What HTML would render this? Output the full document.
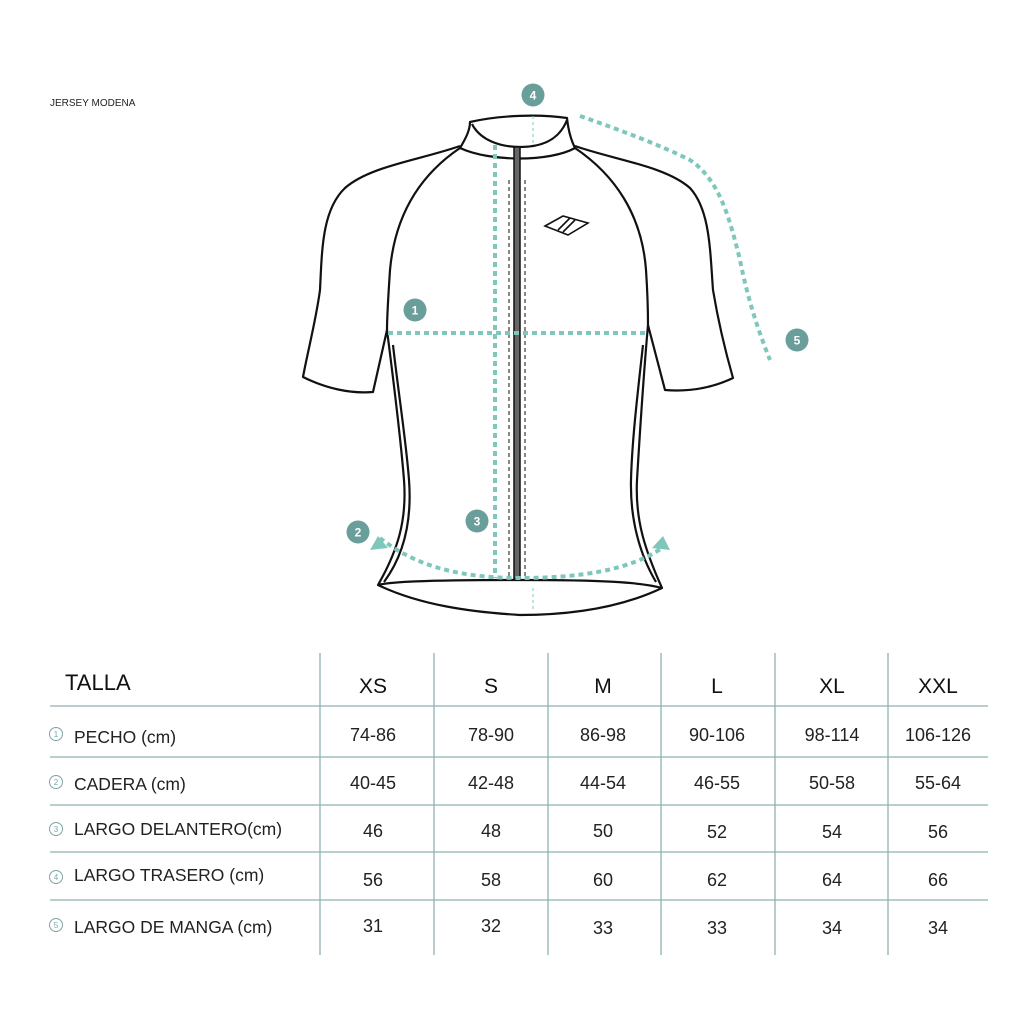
<!DOCTYPE html>
<html><head><meta charset="utf-8"><style>
html,body{margin:0;padding:0;background:#fff;}
svg{display:block;font-family:"Liberation Sans",sans-serif;}
</style></head><body>
<svg width="1024" height="1024" viewBox="0 0 1024 1024" xmlns="http://www.w3.org/2000/svg">
<rect width="1024" height="1024" fill="#fff"/>
<text x="50" y="106" font-size="10" fill="#222">JERSEY MODENA</text>

<g fill="none" stroke="#111" stroke-width="2.2" stroke-linejoin="round">
  <path d="M460,146 C420,160 370,166 345,188 C322,210 322,250 320,290 C316,320 308,350 303,377 C325,388 350,394 373,392 L387,330 C392,370 400,430 404,480 C407,520 398,550 378,585 C420,605 470,612 520,615 C570,615 620,608 662,588 C645,550 635,520 637,480 C640,430 644,370 648,325 L665,390 C690,392 712,388 733,378 C725,350 718,320 713,290 C710,250 710,210 690,188 C665,166 615,160 575,146"/>
  <path d="M378,585 C390,582 420,580 520,580 C600,580 640,582 662,588"/>
  <path d="M393,345 C398,390 406,440 409,480 C412,520 404,555 384,582"/>
  <path d="M643,345 C638,390 632,440 631,480 C630,520 640,555 656,582"/>
  <path d="M460,148 C420,175 395,215 390,270 C388,300 387,315 387,330"/>
  <path d="M575,148 C615,175 642,215 646,270 C648,300 648,315 648,325"/>
  <path d="M460,148 C466,138 470,130 470,122 C500,115 540,114 567,118 C568,128 570,138 575,148"/>
  <path d="M472,124 C480,140 500,147 520,147 C545,147 560,138 567,120"/>
  <path d="M460,148 C490,162 550,162 575,148"/>
</g>
<rect x="514" y="147" width="6" height="432" fill="#666" stroke="#111" stroke-width="1.5"/>
<g stroke="#111" stroke-width="1" stroke-dasharray="4,3">
  <line x1="509" y1="180" x2="509" y2="580"/>
  <line x1="525" y1="180" x2="525" y2="580"/>
</g>
<g stroke="#111" stroke-width="1.6" fill="none">
  <path d="M545,226 L563,216 L588,223 L568,235 Z"/>
  <line x1="558" y1="230" x2="570" y2="218"/>
  <line x1="563" y1="232" x2="575" y2="220"/>
</g>

<g fill="none" stroke="#7fc7bb" stroke-width="4" stroke-dasharray="5,4">
  <line x1="495" y1="145" x2="495" y2="578"/>
  <line x1="388" y1="333" x2="648" y2="333"/>
  <path d="M380,538 C420,570 470,578 520,578 C580,578 630,570 662,548"/>
  <path d="M580,116 C620,130 660,145 690,160 C720,180 730,220 740,260 C748,300 758,330 770,360"/>
</g>
<g stroke="#7fc7bb" stroke-width="1" stroke-dasharray="3,3">
  <line x1="533" y1="116" x2="533" y2="145"/>
  <line x1="533" y1="588" x2="533" y2="612"/>
</g>
<path d="M370,550 L378,536 L388,548 Z" fill="#7fc7bb"/>
<path d="M652,548 L663,536 L670,550 Z" fill="#7fc7bb"/>

<g font-size="12" font-weight="bold" fill="#fff" text-anchor="middle">
  <circle cx="533" cy="95" r="11.5" fill="#6a9e9a"/><text x="533" y="99.5">4</text>
  <circle cx="415" cy="310" r="11.5" fill="#6a9e9a"/><text x="415" y="314.5">1</text>
  <circle cx="797" cy="340" r="11.5" fill="#6a9e9a"/><text x="797" y="344.5">5</text>
  <circle cx="358" cy="532" r="11.5" fill="#6a9e9a"/><text x="358" y="536.5">2</text>
  <circle cx="477" cy="521" r="11.5" fill="#6a9e9a"/><text x="477" y="525.5">3</text>
</g>

<g stroke="#8fb0b2" stroke-width="1.3">
  <line x1="320" y1="653" x2="320" y2="955"/>
  <line x1="434" y1="653" x2="434" y2="955"/>
  <line x1="548" y1="653" x2="548" y2="955"/>
  <line x1="661" y1="653" x2="661" y2="955"/>
  <line x1="775" y1="653" x2="775" y2="955"/>
  <line x1="888" y1="653" x2="888" y2="955"/>
  <line x1="50" y1="706" x2="988" y2="706"/>
  <line x1="50" y1="757" x2="988" y2="757"/>
  <line x1="50" y1="805" x2="988" y2="805"/>
  <line x1="50" y1="852" x2="988" y2="852"/>
  <line x1="50" y1="900" x2="988" y2="900"/>
</g>
<text x="65" y="690" font-size="22" fill="#111">TALLA</text>
<g font-size="21" fill="#111" text-anchor="middle">
  <text x="373" y="693">XS</text><text x="491" y="693">S</text><text x="603" y="693">M</text>
  <text x="717" y="693">L</text><text x="832" y="693">XL</text><text x="938" y="693">XXL</text>
</g>
<g fill="none" stroke="#7aa6a4" stroke-width="1">
  <circle cx="56" cy="734" r="6.5"/><circle cx="56" cy="782" r="6.5"/><circle cx="56" cy="829" r="6.5"/><circle cx="56" cy="877" r="6.5"/><circle cx="56" cy="925" r="6.5"/>
</g>
<g font-size="8" fill="#7aa6a4" text-anchor="middle">
  <text x="56" y="737">1</text><text x="56" y="785">2</text><text x="56" y="832">3</text><text x="56" y="880">4</text><text x="56" y="928">5</text>
</g>
<g font-size="17.5" fill="#222">
  <text x="74" y="743">PECHO (cm)</text>
  <text x="74" y="790">CADERA (cm)</text>
  <text x="74" y="835">LARGO DELANTERO(cm)</text>
  <text x="74" y="881">LARGO TRASERO (cm)</text>
  <text x="74" y="933">LARGO DE MANGA (cm)</text>
</g>
<g font-size="18" fill="#222" text-anchor="middle">
  <text x="373" y="741">74-86</text><text x="491" y="741">78-90</text><text x="603" y="741">86-98</text><text x="717" y="741">90-106</text><text x="832" y="741">98-114</text><text x="938" y="741">106-126</text>
  <text x="373" y="789">40-45</text><text x="491" y="789">42-48</text><text x="603" y="789">44-54</text><text x="717" y="789">46-55</text><text x="832" y="789">50-58</text><text x="938" y="789">55-64</text>
  <text x="373" y="837">46</text><text x="491" y="837">48</text><text x="603" y="837">50</text><text x="717" y="838">52</text><text x="832" y="838">54</text><text x="938" y="838">56</text>
  <text x="373" y="886">56</text><text x="491" y="886">58</text><text x="603" y="886">60</text><text x="717" y="886">62</text><text x="832" y="886">64</text><text x="938" y="886">66</text>
  <text x="373" y="932">31</text><text x="491" y="932">32</text><text x="603" y="934">33</text><text x="717" y="934">33</text><text x="832" y="934">34</text><text x="938" y="934">34</text>
</g>
</svg>
</body></html>
